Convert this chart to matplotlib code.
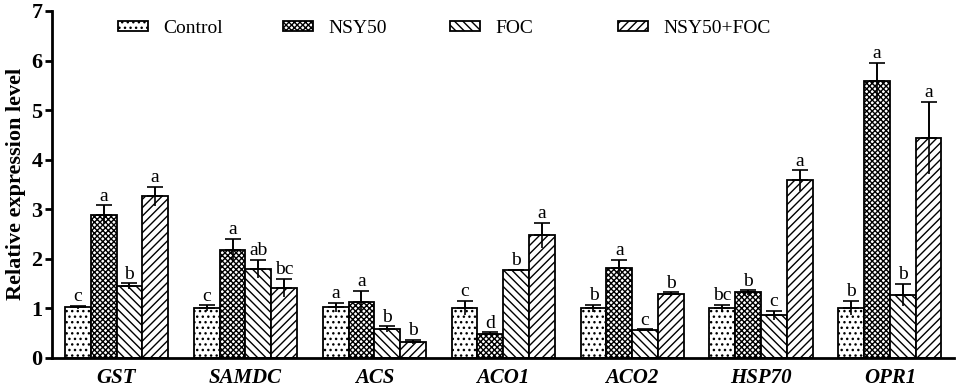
import numpy as np
import matplotlib
matplotlib.use('Agg')
import matplotlib.pyplot as plt
from matplotlib.patches import Patch

genes = ['GST', 'SAMDC', 'ACS', 'ACO1', 'ACO2', 'HSP70', 'OPR1']
treatments = ['Control', 'NSY50', 'FOC', 'NSY50+FOC']

control = [1.02, 1.00, 1.02, 1.01, 1.00, 1.00, 1.01]
nsy50 = [2.89, 2.18, 1.13, 0.49, 1.82, 1.32, 5.58]
foc = [1.45, 1.80, 0.58, 1.77, 0.56, 0.86, 1.27]
nsy50_foc = [3.26, 1.41, 0.33, 2.47, 1.28, 3.58, 4.44]

control_err = [0.03, 0.06, 0.09, 0.14, 0.07, 0.07, 0.14]
nsy50_err = [0.19, 0.22, 0.22, 0.03, 0.16, 0.05, 0.38]
foc_err = [0.06, 0.18, 0.06, 0.01, 0.02, 0.09, 0.23]
nsy50_foc_err = [0.19, 0.19, 0.04, 0.26, 0.04, 0.21, 0.73]

control_sig = ['c', 'c', 'a', 'c', 'b', 'bc', 'b']
nsy50_sig = ['a', 'a', 'a', 'd', 'a', 'b', 'a']
foc_sig = ['b', 'ab', 'b', 'b', 'c', 'c', 'b']
nsy50_foc_sig = ['a', 'bc', 'b', 'a', 'b', 'a', 'a']

plt.rcParams['font.family'] = ['Liberation Serif', 'DejaVu Serif']
plt.rcParams['hatch.linewidth'] = 1.0

means = [control, nsy50, foc, nsy50_foc]
errs = [control_err, nsy50_err, foc_err, nsy50_foc_err]
sigs = [control_sig, nsy50_sig, foc_sig, nsy50_foc_sig]
hatches = ['...', 'xxxxxx', '\\\\\\\\', '////']

fig = plt.figure(figsize=(9.64, 3.92), dpi=100)
ax = fig.add_axes([0.054, 0.087, 0.936, 0.885])

x = np.arange(len(genes))
w = 0.2
for i, name in enumerate(treatments):
    pos = x + (i - 1.5) * w
    ax.bar(pos, means[i], w, color='white', edgecolor='black', hatch=hatches[i],
           linewidth=1.3, zorder=2)
    # whisker through the bar, cap only on top
    ax.errorbar(pos, means[i], yerr=errs[i], fmt='none', ecolor='black',
                elinewidth=1.2, capsize=0, zorder=3)
    ax.errorbar(pos, means[i], yerr=[np.zeros(len(genes)), errs[i]], fmt='none',
                ecolor='black', elinewidth=1.2, capsize=6, capthick=1.2, zorder=3)
    for xp, m, e, s in zip(pos, means[i], errs[i], sigs[i]):
        ax.text(xp, m + e + 0.01, s, ha='center', va='bottom', fontsize=14)

ax.set_xlim(-0.5, 6.5)
ax.set_ylim(0, 7)
ax.set_yticks(range(8))
ax.set_xticks(x)
ax.set_xticklabels(genes, fontsize=15, fontweight='bold', fontstyle='italic')
ax.tick_params(axis='x', length=0, pad=7)
ax.tick_params(axis='y', labelsize=16, width=2, length=5, pad=2)
for lab in ax.get_yticklabels():
    lab.set_fontweight('bold')
ax.set_ylabel('Relative expression level', fontsize=16, fontweight='bold', labelpad=4)
ax.spines['top'].set_visible(False)
ax.spines['right'].set_visible(False)
ax.spines['left'].set_linewidth(2)
ax.spines['bottom'].set_linewidth(2)

# legend entries evenly spaced along the top
leg_x = [0.060, 0.243, 0.428, 0.614]
for i, name in enumerate(treatments):
    h = Patch(facecolor='white', edgecolor='black', hatch=hatches[i], linewidth=1.3)
    leg = ax.legend([h], [name], loc='upper left', bbox_to_anchor=(leg_x[i], 1.008),
                    frameon=False, fontsize=14, handlelength=1.55, handleheight=0.45,
                    handletextpad=0.8, borderaxespad=0.2)
    if i < len(treatments) - 1:
        ax.add_artist(leg)

fig.savefig('out.png', dpi=100)
